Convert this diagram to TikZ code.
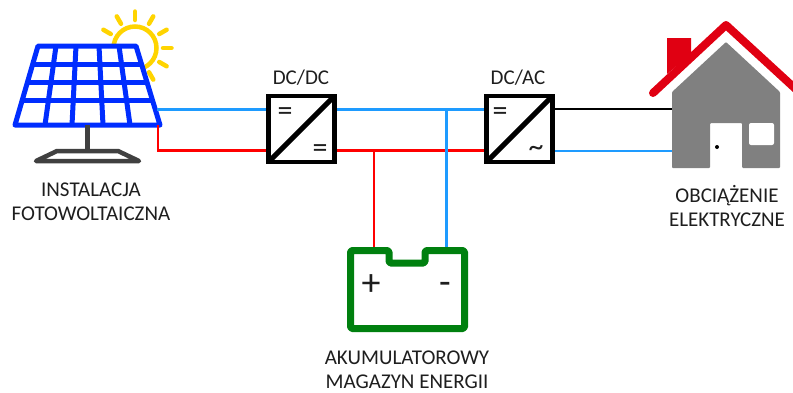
\documentclass[tikz,border=0pt]{standalone}
\usepackage{xcolor}
\usepackage{fontspec}
\setmainfont{Carlito}
\usepackage{tikz}
\definecolor{panelblue}{RGB}{0, 45, 255}
\definecolor{wireblue}{RGB}{30, 155, 255}
\definecolor{wirered}{RGB}{255, 0, 0}
\definecolor{sunyellow}{RGB}{255, 212, 0}
\definecolor{batgreen}{RGB}{0, 128, 15}
\definecolor{roofred}{RGB}{224, 0, 18}
\definecolor{housegray}{RGB}{128, 128, 128}
\definecolor{standgray}{RGB}{64, 64, 64}
\definecolor{labelgray}{RGB}{30, 30, 30}
\tikzset{
    bluewire/.style={draw=wireblue, line width=2.5pt},
    redwire/.style={draw=wirered, line width=2.5pt},
    blackwire/.style={draw=black, line width=2.5pt},
    converter/.style={draw=black, fill=white, line width=4.5pt, minimum size=66pt, inner sep=0pt, outer sep=2.25pt},
    diagonal/.style={draw=black, line width=5pt, shorten >=3.5pt, shorten <=3.5pt},
    caption/.style={text=labelgray, font=\fontsize{21}{23.5}\selectfont, align=center, inner sep=0pt},
    symbol/.style={text=labelgray, font=\fontsize{30}{30}\selectfont, inner sep=0pt},
    gridline/.style={draw=panelblue, line width=5pt}
}

\begin{document}
\begin{tikzpicture}[x=1pt, y=-1pt]
    \useasboundingbox (0,0) rectangle (793,392);
    % sun
    \draw[sunyellow, line width=4.5pt] (135,48) circle (21.5);
    \foreach \ang in {-60,-30,0,30,60,90,120,150}
        \draw[sunyellow, line width=4.5pt, line cap=round] (135,48) ++(\ang:28pt) -- ++(\ang:8.5pt);
    % panel
    \draw[gridline, fill=white, line join=round] (38,46) -- (136,46) -- (160,125) -- (15,125) -- cycle;
    \foreach \xa/\xb in {56/45, 76/72, 99/103, 119/130}
        \draw[gridline] (\xa,46) -- (\xb,125);
    \draw[gridline] (33,64) -- (141,64);
    \draw[gridline] (28,82) -- (147,82);
    \draw[gridline] (22,100) -- (152,100);
    \draw[standgray, line width=4.5pt] (87.5,125) -- (87.5,151);
    \draw[standgray, line width=4.5pt, line join=round] (57,151) -- (118,151) -- (139,161) -- (36,161) -- cycle;
    \coordinate (panelblue) at (157,109.5);
    \coordinate (panelred) at (158,125);
    % converters
    \node[converter] (dcdc) at (301.5,129) {};
    \node[converter] (dcac) at (519.5,129) {};
    \coordinate (bend) at (158,150.5);
    \draw[redwire] (panelred) -- (bend) -- ([yshift=-21.5pt]dcdc.west);
    \draw[bluewire] (panelblue) -- ([yshift=19.5pt]dcdc.west);
    \draw[redwire] ([yshift=-21.5pt]dcdc.east) -- ([yshift=-21.5pt]dcac.west);
    \draw[bluewire] ([yshift=19.5pt]dcdc.east) -- ([yshift=19.5pt]dcac.west);
    \draw[diagonal] (dcdc.south west) -- (dcdc.north east);
    \draw[diagonal] (dcac.south west) -- (dcac.north east);
    \node[symbol] (eqa) at (285,114.5) {=};
    \node[symbol] (eqb) at (320,151.5) {=};
    \node[symbol] (eqc) at (500,114.5) {=};
    \node[symbol] (acs) at (536,151.5) {\textasciitilde};
    \node[caption] (dcdclabel) at (301,78) {DC/DC};
    \node[caption] (dcaclabel) at (518,78) {DC/AC};
    % house
    \fill[housegray, rounded corners=1pt] (726,42) -- (780,92) -- (780,168) -- (742,168) -- (742,123) -- (710,123) -- (710,168) -- (672,168) -- (672,92) -- cycle;
    \fill[white, rounded corners=2pt] (749,123) rectangle (774,145);
    \fill[black] (717,147) circle (2);
    \fill[roofred] (667,38) -- (691,38) -- (691,54) -- (667,74) -- cycle;
    \draw[roofred, line width=8pt, line cap=round, line join=round] (653,93) -- (726,25) -- (800,93);
    \coordinate (houseblack) at (672,109);
    \coordinate (houseblue) at (672,151);
    \draw[blackwire] ([yshift=20pt]dcac.east) -- (houseblack);
    \draw[bluewire] ([yshift=-22pt]dcac.east) -- (houseblue);
    % battery
    \draw[batgreen, line width=7pt, line join=round, rounded corners=1.5pt] (350.5,250.5) -- (389,250.5) -- (389,263) -- (425,263) -- (425,250.5) -- (464.5,250.5) -- (464.5,328.5) -- (350.5,328.5) -- cycle;
    \coordinate (batplus) at (374,247);
    \coordinate (batminus) at (446.5,247);
    \coordinate (redtap) at (374,150.5);
    \coordinate (bluetap) at (446.5,109.5);
    \draw[redwire] (batplus) -- (redtap);
    \draw[bluewire] (batminus) -- (bluetap);
    \node[symbol, font=\fontsize{38}{38}\selectfont] (plus) at (371,285) {+};
    \node[symbol, font=\fontsize{38}{38}\selectfont] (minus) at (445,288) {-};
    % captions
    \node[caption] (pvlabel) at (91,202) {INSTALACJA\\FOTOWOLTAICZNA};
    \node[caption] (loadlabel) at (727,206) {OBCIĄŻENIE\\ELEKTRYCZNE};
    \node[caption] (storelabel) at (407,369.5) {AKUMULATOROWY\\MAGAZYN ENERGII};
\end{tikzpicture}
\end{document}
